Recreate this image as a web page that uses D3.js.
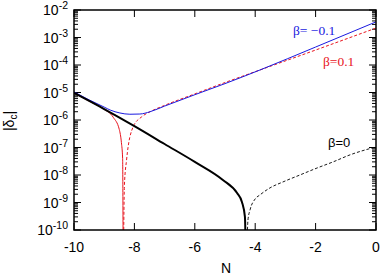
<!DOCTYPE html>
<html>
<head>
<meta charset="utf-8">
<script src="https://cdn.jsdelivr.net/npm/d3@7"></script>
<style>
  body { margin: 0; background: #fff; }
  text { font-family: "Liberation Sans", Arial, sans-serif; }
</style>
</head>
<body>
<div id="chart"></div>
<script>
// Graph dimension
const W = 382, H = 275
const margin = { top: 10, right: 6, bottom: 45, left: 74 },
    width = W - margin.left - margin.right,
    height = H - margin.top - margin.bottom

// beta = 0, before the zero crossing (thick solid)
const zeroSolid = [[-10, 9.6e-6], [-9, 2.5e-6], [-8, 6.0e-7], [-7, 1.34e-7], [-6, 3.0e-8],
    [-5.07, 6.6e-9], [-4.6, 2.2e-9], [-4.44, 1.05e-9], [-4.34, 3.0e-10], [-4.3, 1e-12]]
// beta = 0, after the zero crossing (dashed)
const zeroDashed = [[-4.3, 1e-12], [-4.24, 2.3e-10], [-4.17, 5.4e-10], [-4.0, 1.35e-9], [-3.84, 1.9e-9],
    [-3.51, 3.4e-9], [-3.08, 5.6e-9], [-2.52, 1.0e-8], [-1.95, 1.8e-8], [-1.42, 3.0e-8],
    [-0.86, 5.4e-8], [0, 1.05e-7]]
// beta = -0.1 (blue)
const minusBeta = [[-10, 1.05e-5], [-9.5, 5.4e-6], [-9, 2.95e-6], [-8.8, 2.3e-6], [-8.48, 1.8e-6],
    [-8.15, 1.62e-6], [-7.82, 1.65e-6], [-7.48, 2.0e-6], [-7, 3.2e-6], [-6, 8.3e-6],
    [-5, 2.1e-5], [-3.84, 6.6e-5], [-2, 4.5e-4], [0, 3.7e-3]]
// beta = 0.1 (red), before and after the zero crossing
const plusSolid = [[-10, 9.6e-6], [-9.5, 4.9e-6], [-9.04, 2.6e-6], [-8.7, 1.25e-6], [-8.5, 4.5e-7],
    [-8.43, 1.5e-7], [-8.39, 4e-8], [-8.37, 1e-12]]
const plusDashed = [[-8.37, 1e-12], [-8.33, 4.4e-9], [-8.26, 3.5e-8], [-8.04, 5.7e-7], [-7.76, 1.3e-6],
    [-7.48, 2.0e-6], [-7, 3.4e-6], [-6, 8.9e-6], [-5, 2.3e-5], [-3.84, 6.6e-5],
    [-2, 3.5e-4], [0, 2.2e-3]]

const xTicks = [-10, -8, -6, -4, -2, 0]
const yExponents = [-2, -3, -4, -5, -6, -7, -8, -9, -10]

const svg = d3.select("#chart").append("svg")
    .attr("width", W)
    .attr("height", H)

const g = svg.append("g")
    .attr("transform", `translate(${margin.left},${margin.top})`)

const x = d3.scaleLinear().domain([-10, 0]).range([0, width])
const y = d3.scaleLog().domain([1e-10, 1e-2]).range([height, 0])

g.append("clipPath").attr("id", "clip")
    .append("rect").attr("width", width).attr("height", height)

// ticks, all pointing inward
const major = 7, minor = 4
const minorVals = []
for (let e = -10; e < -2; e++) {
    for (let k = 2; k <= 9; k++) minorVals.push(k * Math.pow(10, e))
}
const tickG = g.append("g").attr("stroke", "#000").attr("stroke-width", 1)
yExponents.forEach(function (e) {
    const yy = y(Math.pow(10, e))
    tickG.append("line").attr("x1", 0).attr("x2", major).attr("y1", yy).attr("y2", yy)
    tickG.append("line").attr("x1", width).attr("x2", width - major).attr("y1", yy).attr("y2", yy)
})
minorVals.forEach(function (v) {
    const yy = y(v)
    tickG.append("line").attr("x1", 0).attr("x2", minor).attr("y1", yy).attr("y2", yy)
    tickG.append("line").attr("x1", width).attr("x2", width - minor).attr("y1", yy).attr("y2", yy)
})
xTicks.forEach(function (t) {
    const xx = x(t)
    tickG.append("line").attr("x1", xx).attr("x2", xx).attr("y1", height).attr("y2", height - major)
    tickG.append("line").attr("x1", xx).attr("x2", xx).attr("y1", 0).attr("y2", major)
})

// curves
const line = d3.line()
    .x(function (d) { return x(d[0]) })
    .y(function (d) { return y(d[1]) })
    .curve(d3.curveMonotoneX)

const curves = g.append("g").attr("clip-path", "url(#clip)").attr("fill", "none")
curves.append("path").datum(zeroDashed).attr("d", line)
    .attr("stroke", "#000").attr("stroke-width", 0.9).attr("stroke-dasharray", "3,2")
curves.append("path").datum(plusDashed).attr("d", line)
    .attr("stroke", "#e8141e").attr("stroke-width", 1).attr("stroke-dasharray", "3,2")
curves.append("path").datum(minusBeta).attr("d", line)
    .attr("stroke", "#1a1ae0").attr("stroke-width", 1)
curves.append("path").datum(plusSolid).attr("d", line)
    .attr("stroke", "#e8141e").attr("stroke-width", 1)
curves.append("path").datum(zeroSolid).attr("d", line)
    .attr("stroke", "#000").attr("stroke-width", 2)

// frame
g.append("rect").attr("width", width).attr("height", height)
    .attr("fill", "none").attr("stroke", "#000").attr("stroke-width", 1.5)

// y tick labels 10^e
yExponents.forEach(function (e) {
    const t = g.append("text")
        .attr("x", -6)
        .attr("y", y(Math.pow(10, e)) + 5)
        .attr("text-anchor", "end")
        .style("font-size", "14px")
    t.append("tspan").text("10")
    t.append("tspan").attr("dy", -6).style("font-size", "10.5px").text(e)
})

// x tick labels
xTicks.forEach(function (t) {
    g.append("text")
        .attr("x", x(t))
        .attr("y", height + 22)
        .attr("text-anchor", "middle")
        .style("font-size", "14px")
        .text(t)
})

// axis titles
svg.append("text")
    .attr("x", 226).attr("y", 273)
    .attr("text-anchor", "middle")
    .style("font-size", "14px")
    .text("N")

const yl = svg.append("text")
    .attr("transform", "translate(14,121) rotate(-90)")
    .attr("text-anchor", "middle")
    .style("font-size", "14px")
yl.append("tspan").text("|δ")
yl.append("tspan").attr("dy", 3).style("font-size", "10px").text("c")
yl.append("tspan").attr("dy", -3).text("|")

// curve labels
svg.append("text")
    .attr("x", 293).attr("y", 35)
    .style("font-family", "'Liberation Serif', serif")
    .style("font-size", "13.5px")
    .attr("fill", "#1a1ae0")
    .text("β= −0.1")
svg.append("text")
    .attr("x", 323).attr("y", 66)
    .style("font-family", "'Liberation Serif', serif")
    .style("font-size", "13.5px")
    .attr("fill", "#e8141e")
    .text("β=0.1")
svg.append("text")
    .attr("x", 328).attr("y", 147)
    .style("font-size", "13px")
    .text("β=0")
</script>
</body>
</html>
